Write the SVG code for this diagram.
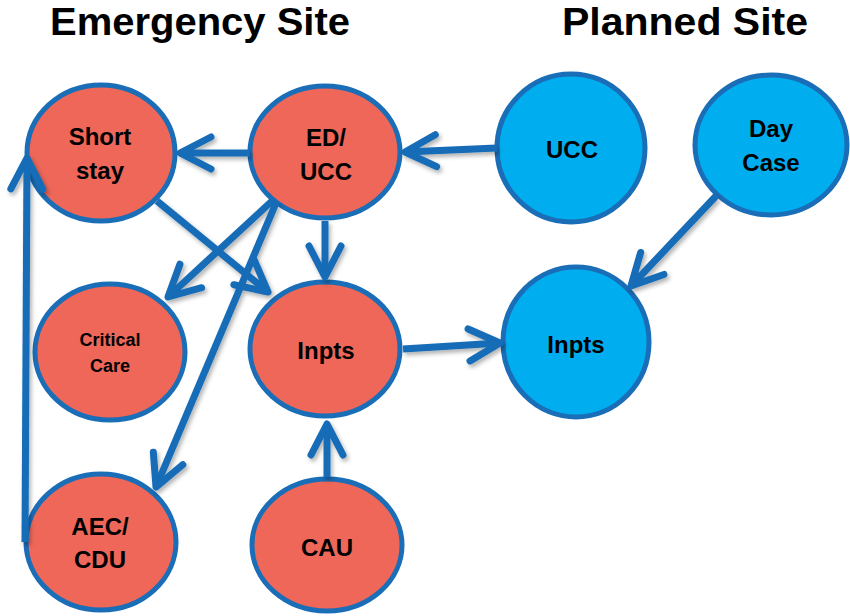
<svg xmlns="http://www.w3.org/2000/svg" width="850" height="616" viewBox="0 0 850 616">
<style>
.red{fill:#EE6759;stroke:#1A6DB7;stroke-width:5}
.blue{fill:#00AEEF;stroke:#1A6DB7;stroke-width:5}
.lbl{font-family:"Liberation Sans",Arial,sans-serif;font-weight:bold;font-size:24px;fill:#000;text-anchor:middle}
.sm{font-size:18px}
.title{font-family:"Liberation Sans",Arial,sans-serif;font-weight:bold;font-size:38px;fill:#000;text-anchor:middle}
.edge{stroke:#146CB6;stroke-width:7;fill:none;marker-end:url(#chev)}
</style>
<defs>
<marker id="chev" markerUnits="userSpaceOnUse" viewBox="-40 -20 44 40" markerWidth="44" markerHeight="40" refX="0" refY="0" orient="auto">
<path d="M-31,-16 L0,0 L-31,16" fill="none" stroke="#146CB6" stroke-width="7" stroke-linecap="round" stroke-linejoin="round"/>
</marker>
<filter id="sh" x="-20%" y="-20%" width="140%" height="140%">
<feDropShadow dx="2" dy="3" stdDeviation="2" flood-color="#000" flood-opacity="0.3"/>
</filter>
</defs>
<text class="title" x="200" y="35" textLength="300" lengthAdjust="spacingAndGlyphs">Emergency Site</text>
<text class="title" x="685" y="35" textLength="246" lengthAdjust="spacingAndGlyphs">Planned Site</text>
<g id="short-stay"><ellipse class="red" cx="101" cy="153" rx="74" ry="68"/><text class="lbl" x="100" y="145">Short</text><text class="lbl" x="100" y="179">stay</text></g>
<g id="ed-ucc"><ellipse class="red" cx="325" cy="152" rx="75" ry="66"/><text class="lbl" x="326" y="146">ED/</text><text class="lbl" x="326" y="180">UCC</text></g>
<g id="critical-care"><ellipse class="red" cx="110" cy="352" rx="75" ry="68"/><text class="lbl sm" x="110" y="346">Critical</text><text class="lbl sm" x="110" y="372">Care</text></g>
<g id="inpts-red"><ellipse class="red" cx="325" cy="349" rx="75" ry="67"/><text class="lbl" x="326" y="359">Inpts</text></g>
<g id="aec-cdu"><ellipse class="red" cx="101" cy="542" rx="75" ry="68"/><text class="lbl" x="100" y="535">AEC/</text><text class="lbl" x="100" y="568">CDU</text></g>
<g id="cau"><ellipse class="red" cx="327" cy="545" rx="75" ry="66"/><text class="lbl" x="327" y="556">CAU</text></g>
<g id="ucc-blue"><ellipse class="blue" cx="571" cy="148" rx="74" ry="74"/><text class="lbl" x="572" y="158">UCC</text></g>
<g id="day-case"><ellipse class="blue" cx="771" cy="145" rx="76" ry="70"/><text class="lbl" x="771" y="137">Day</text><text class="lbl" x="771" y="171">Case</text></g>
<g id="inpts-blue"><ellipse class="blue" cx="576" cy="342" rx="73" ry="75"/><text class="lbl" x="576" y="353">Inpts</text></g>
<g id="connectors" filter="url(#sh)">
<line class="edge" x1="250" y1="153" x2="180" y2="153"/>
<line class="edge" x1="497" y1="148" x2="405" y2="152"/>
<line class="edge" x1="325" y1="221" x2="325" y2="277"/>
<line class="edge" x1="157" y1="201" x2="268" y2="292"/>
<line class="edge" x1="272" y1="201" x2="168" y2="297"/>
<line class="edge" x1="276" y1="203" x2="156" y2="487"/>
<line class="edge" x1="25" y1="542" x2="27" y2="158"/>
<line class="edge" x1="327" y1="477" x2="327" y2="424"/>
<line class="edge" x1="403" y1="349" x2="500" y2="343"/>
<line class="edge" x1="716" y1="196" x2="631" y2="286"/>
</g>
</svg>
